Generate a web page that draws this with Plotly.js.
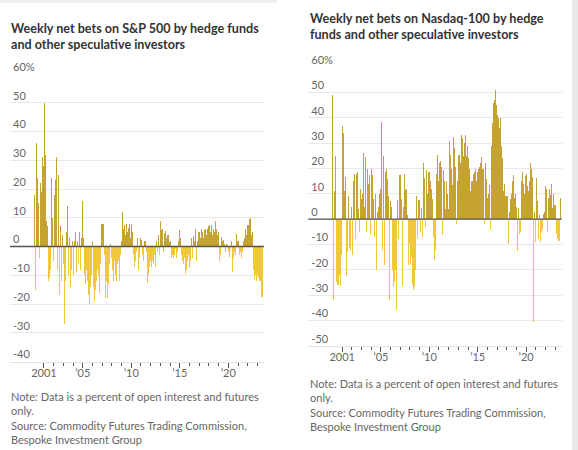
<!DOCTYPE html>
<html><head><meta charset="utf-8">
<script src="https://cdn.plot.ly/plotly-3.0.1.min.js"></script>
<style>html,body{margin:0;padding:0;background:#fff}#chart{width:578px;height:450px}</style>
</head><body><div id="chart"></div>
<script>
// Monthly readings (percent of open interest), starting January 2000
const startYear = 2000;
const spxNetBets = [
  18, -15, 36, -13, 24, 15, -4, 22, 19, -6, 31, 28,          // 2000
  50, 32, -10, 9, 7, -12, -11, 2, -8, 24, 10, -5,            // 2001
  -26.6, 18, 23, 31, -8, 25, 26, -17, 7, -12, 4, -8,         // 2002
  -6, -27, -12, 5, -19, 14, -10, 3, -14, -20.8, -8, 2,       // 2003
  -10, 2, -8, 5, -9, 2, -6, 5, -7, -8, 3, 16,                // 2004
  3, -6, -10, -13, -8, -12, 2, -16.8, -20, -14, -10, -12,    // 2005
  2, -14, -19, -15, -12, -17, -8, -10, -16, -6, -4, 8,       // 2006
  8, 8, -3, -10, -18, -12, -18, -13, -8, -6, 1, -4,          // 2007
  -8, 1, -12, -5, -10, -12, -6, -10, -5, -12, -3, 2,         // 2008
  11.6, 12, 6, 7.5, 4, 3, 8, 5, 6.4, 8, 4, 3,                // 2009
  8, 5, -3, -7, 3, -5, -2, 3, -8, 2, -4, 3,                  // 2010
  2.3, -3, 6, -5, 2, 2, -2, -4, -12.7, -10, -7, -5,          // 2011
  -10, -7, -5, -6, -3, -7, -5, 2, -2, 4, -3, 5,              // 2012
  8.7, 5.8, 6, -2, 8.5, 4.6, 5.5, 3, 4, -1, 4, 1.7,          // 2013
  2, -4, -3, -2, -4, -3, -1, -4, 1, -2, 2, 5.8,              // 2014
  3, 5.5, -3, -5, -6, -4, -7, -9.5, -8, -5, -3, -6,          // 2015
  -7.5, -5, 3, -4, 3.5, 6, 2, 6, -5, 2, 3, 5,                // 2016
  5, 3, 6, 4, 5, 3, 5.8, 6, 2, 4, 6, 7,                      // 2017
  7.5, 5, 6, 7.5, 4, 6, 5, 8, 8.7, 6, 4, 5,                  // 2018
  4.6, -5, -3, 3.2, 2, -2, 2.3, 1, -2, 1, 2, 0.5,            // 2019
  -2, -3.5, -1, 2, -8.7, -9, -4, -2, -3, -1, 4.4, 2,         // 2020
  2, -3, 1, -2, -4, -2, 2, 4.6, 3, 6, 4, 7.5,                // 2021
  7.5, 6, 9.5, 10, 4, 5, -3, -8, -11.6, -10, -12, -9.8,      // 2022
  -9.8, -11, -12, -12, -14, -17.4, -17.7                     // 2023
];
const ndxNetBets = [
  49, -31.8, 11, 25, -25, -28, -26, -26, -22, -26.6, -20, -14,   // 2000
  36.8, 34, 11, -10, 16.8, -22.6, -12.8, 9, 8.3, -11.4, -12, 5,  // 2001
  -14, 4, 14.9, 18, -8, 18, -30.5, 18.8, 4, -5, 12, 8,           // 2002
  18.4, 10, 26, 5, 24.6, 23.6, -5, 20, 14, 17.5, 20, -6,         // 2003
  20, 17.5, 8, 13.5, -7, 10, -20, 3, -31, 5, 10, 12,             // 2004
  38.3, -12, -20.7, 25, -18, 18.8, 20, 25.8, 16, 9, -31.8, 7,    // 2005
  2.4, 5, -20, -27, -25, -30, -20, -35.8, 7.6, -8, 7.6, 17.5,    // 2006
  17.5, 8, -26.6, -15, 5, 18, 11.6, 12, 1.7, -12, -18, -10,      // 2007
  -18, -15, -20, -26, -28, -27, -20, -10, 9, -8, 7.6, 7.6,       // 2008
  7.6, -5, 4.3, -7, 22, 14.9, 16.2, -3, 19.5, 10, 12, 18.8,      // 2009
  18.8, 15, 12, 8, 18, -7, -16, -12, 18, 10, 25.4, 15,           // 2010
  22, 22.8, 21.4, 20.8, -6.2, 19.5, 14.9, -6, 4, 14.9, 10, 4,    // 2011
  5, 30.7, 25.4, 20, 13.5, 22, 32.6, 28, 20.8, -2, 15, 10,       // 2012
  25.4, 25.4, 22, 33.3, 28, 32, 25, 30, 33.3, 29.3, 25, 29,      // 2013
  24, 20, 17.5, 11, 15, 14.9, 18, 10, 18.8, 20, 15, 18.8,        // 2014
  18.8, 20, 20.8, 22, 24.7, 20, 23.4, 20, -2, 22, 16, 15,        // 2015
  8.3, 10, 13.5, -3.8, 20, 29, 38, 45.8, 47, 43, 51, 45,         // 2016
  41, 40, 41, 36, 40, 29, 24, 17.5, 11, 14, 9, 9,                // 2017
  9, 5.7, -10, 3, 8, 10, 13.5, 15, 17.5, 8.3, 10, 5,             // 2018
  5, -12.5, 4.3, -6, 9.6, -5, 15, 18.8, 14, 18, 10, 17,          // 2019
  18, 13, 18, 11, 15, 22, 20, 16.8, 12, -40.7, 3, -9,            // 2020
  16.2, -9.8, 7, -8, 1.7, -9, 1.7, -5, -4, 2, 3, 13,             // 2021
  13, 12, -5, 8.3, 14.2, 12, 9.6, 14, 4.3, 13, 10, 5.7,          // 2022
  5.7, -6, -8, 1, -8.6, -8.8, 8.3                                // 2023
];
const spxYTickVals = [-40, -30, -20, -10, 0, 10, 20, 30, 40, 50, 60];
const spxYTickText = ['-40', '-30', '-20', '-10', '0', '10', '20', '30', '40', '50', '60%'];
const ndxYTickVals = [-50, -40, -30, -20, -10, 0, 10, 20, 30, 40, 50, 60];
const ndxYTickText = ['-50', '-40', '-30', '-20', '-10', '0', '10', '20', '30', '40', '50', '60%'];
const xTickVals = [2001, 2005, 2010, 2015, 2020];
const xTickText = ['2001', "\u201905", "\u201910", "\u201915", "\u201920"];
const firstTickYear = 2001, lastTickYear = 2023;

const titleSpx = 'Weekly net bets on S&amp;P 500 by hedge funds<br>and other speculative investors';
const titleNdx = 'Weekly net bets on Nasdaq-100 by hedge<br>funds and other speculative investors';
const noteText = 'Note: Data is a percent of open interest and futures<br>only.<br>Source: Commodity Futures Trading Commission,<br>Bespoke Investment Group';

const POS = '#c4a332', NEG = '#f1c73b';
const W = 578, H = 450;
const px = v => v / W, py = v => 1 - v / H;

function monthX(values) { return values.map((_, i) => startYear + i / 12 + 1 / 24); }
function colors(values) { return values.map(v => v >= 0 ? POS : NEG); }

const minorYears = [];
for (let y = firstTickYear; y <= lastTickYear; y++) if (!xTickVals.includes(y)) minorYears.push(y);

const traces = [
  { type: 'bar', x: monthX(spxNetBets), y: spxNetBets, xaxis: 'x', yaxis: 'y',
    marker: { color: colors(spxNetBets), line: { width: 0 } }, hoverinfo: 'skip', showlegend: false },
  { type: 'bar', x: monthX(ndxNetBets), y: ndxNetBets, xaxis: 'x2', yaxis: 'y2',
    marker: { color: colors(ndxNetBets), line: { width: 0 } }, hoverinfo: 'skip', showlegend: false }
];

const tickFont = { family: 'Lato, sans-serif', size: 11, color: '#666' };
function xAxis(domain, anchor) {
  return {
    domain, anchor, range: [1997.5, 2023.68], tickmode: 'array', tickvals: xTickVals, ticktext: xTickText,
    ticks: 'outside', ticklen: 5, tickwidth: 1, tickcolor: '#555', tickfont: tickFont, ticklabelstandoff: -4,
    showgrid: false, zeroline: false, showline: true, linecolor: '#e3e3e3', linewidth: 1,
    minor: { tickmode: 'array', tickvals: minorYears, ticks: 'outside', ticklen: 3, tickwidth: 1, tickcolor: '#555', showgrid: false },
    fixedrange: true
  };
}
function yAxis(domain, anchor, range, vals, text) {
  return {
    domain, anchor, range, tickmode: 'array', tickvals: vals, ticktext: text,
    ticklabelposition: 'inside', ticklabelshift: -7, ticklabeloverflow: 'allow', ticks: '', tickfont: tickFont,
    showgrid: true, gridcolor: '#e8e8e8', gridwidth: 1, zeroline: false, showline: false, fixedrange: true
  };
}

const layout = {
  width: W, height: H, margin: { l: 0, r: 0, t: 0, b: 0 },
  paper_bgcolor: '#fff', plot_bgcolor: 'rgba(0,0,0,0)',
  bargap: 0, showlegend: false,
  font: { family: 'Lato, sans-serif', color: '#333' },
  xaxis: xAxis([px(10), px(264)], 'y'),
  yaxis: yAxis([py(361.5), py(74)], 'x', [-40, 60], spxYTickVals, spxYTickText),
  xaxis2: xAxis([px(308.3), px(561.7)], 'y2'),
  yaxis2: yAxis([py(345.7), py(67.3)], 'x2', [-50, 60], ndxYTickVals, ndxYTickText),
  shapes: [
    { type: 'line', xref: 'x domain', x0: 0, x1: 1, yref: 'y', y0: 0, y1: 0, line: { color: '#555', width: 1.3 }, layer: 'above' },
    { type: 'line', xref: 'x2 domain', x0: 0, x1: 1, yref: 'y2', y0: 0, y1: 0, line: { color: '#555', width: 1.3 }, layer: 'above' },
    { type: 'rect', xref: 'paper', yref: 'paper', x0: px(572), x1: 1, y0: 0, y1: 1, fillcolor: '#e9e9e9', line: { width: 0 }, layer: 'below' },
    { type: 'rect', xref: 'paper', yref: 'paper', x0: 0, x1: px(277), y0: py(3), y1: 1, fillcolor: '#f0f0f0', line: { width: 0 }, layer: 'below' }
  ],
  annotations: [
    { xref: 'paper', yref: 'paper', x: px(9), y: py(37), xanchor: 'left', yanchor: 'middle', align: 'left', showarrow: false,
      text: '<b>' + titleSpx + '</b>', font: { family: 'Lato, sans-serif', size: 12.6, color: '#333' } },
    { xref: 'paper', yref: 'paper', x: px(307.5), y: py(26.5), xanchor: 'left', yanchor: 'middle', align: 'left', showarrow: false,
      text: '<b>' + titleNdx + '</b>', font: { family: 'Lato, sans-serif', size: 12.6, color: '#333' } },
    { xref: 'paper', yref: 'paper', x: px(9), y: py(417.7), xanchor: 'left', yanchor: 'middle', align: 'left', showarrow: false,
      text: noteText, font: { family: 'Lato, sans-serif', size: 11, color: '#666' } },
    { xref: 'paper', yref: 'paper', x: px(307.5), y: py(404.6), xanchor: 'left', yanchor: 'middle', align: 'left', showarrow: false,
      text: noteText, font: { family: 'Lato, sans-serif', size: 11, color: '#666' } }
  ]
};

Plotly.newPlot('chart', traces, layout, { staticPlot: true, displayModeBar: false });
</script></body></html>
